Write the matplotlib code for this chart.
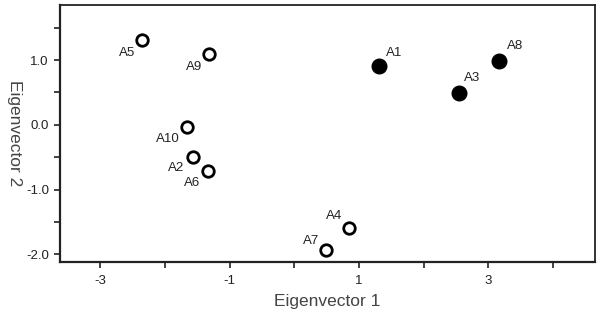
import numpy as np
import matplotlib.pyplot as plt
from matplotlib.ticker import MultipleLocator

plt.rcParams['font.family'] = ['Liberation Sans', 'DejaVu Sans']

# datos
etiquetas_abiertas = ['A5', 'A9', 'A10', 'A2', 'A6', 'A4', 'A7']
x_abiertas = [-2.35, -1.31, -1.66, -1.57, -1.34, 0.85, 0.49]
y_abiertas = [1.31, 1.09, -0.03, -0.49, -0.71, -1.60, -1.94]

etiquetas_llenas = ['A1', 'A3', 'A8']
x_llenas = [1.31, 2.54, 3.17]
y_llenas = [0.91, 0.49, 0.98]

# desplazamiento de cada etiqueta (puntos)
desp = {
    'A5': (-11, -9), 'A9': (-11, -9), 'A10': (-14, -9), 'A2': (-12, -8),
    'A6': (-11, -9), 'A4': (-11, 9), 'A7': (-11, 7),
    'A1': (11, 9), 'A3': (10, 11), 'A8': (11, 11),
}

fig = plt.figure(figsize=(6, 3.15), dpi=100)
ax = fig.add_axes([0.1, 0.168, 0.892, 0.816])

ax.plot(x_abiertas, y_abiertas, 'o', ms=8.3, mfc='white', mec='black', mew=2.0, ls='none')
ax.plot(x_llenas, y_llenas, 'o', ms=10.5, color='black', ls='none')

for nombre, x, y in zip(etiquetas_abiertas + etiquetas_llenas,
                        x_abiertas + x_llenas, y_abiertas + y_llenas):
    ax.annotate(nombre, (x, y), xytext=desp[nombre], textcoords='offset points',
                ha='center', va='center', fontsize=9.5, color='#222222')

ax.set_xlim(-3.62, 4.65)
ax.set_ylim(-2.12, 1.85)
ax.set_xticks([-3, -1, 1, 3])
ax.xaxis.set_minor_locator(MultipleLocator(1))
ax.set_yticks([-2, -1, 0, 1])
ax.set_yticklabels(['-2.0', '-1.0', '0.0', '1.0'])
ax.yaxis.set_minor_locator(MultipleLocator(0.5))
ax.set_xticklabels(['-3', '-1', '1', '3'])

ax.tick_params(which='both', direction='out', length=4, width=1.2, labelsize=9.5,
               colors='#222222', pad=5)
ax.tick_params(axis='y', pad=4)
for lado in ['left', 'bottom']:
    ax.spines[lado].set_linewidth(1.6)
for lado in ['top', 'right']:
    ax.spines[lado].set_linewidth(1.3)
for s in ax.spines.values():
    s.set_color('#222222')

ax.set_xlabel('Eigenvector 1', fontsize=12.5, color='#444444', labelpad=5)
ax.set_ylabel('Eigenvector 2', fontsize=12.5, color='#444444', rotation=270,
              va='center')
ax.yaxis.set_label_coords(-0.085, 0.5)

fig.savefig('out.png', dpi=100)
